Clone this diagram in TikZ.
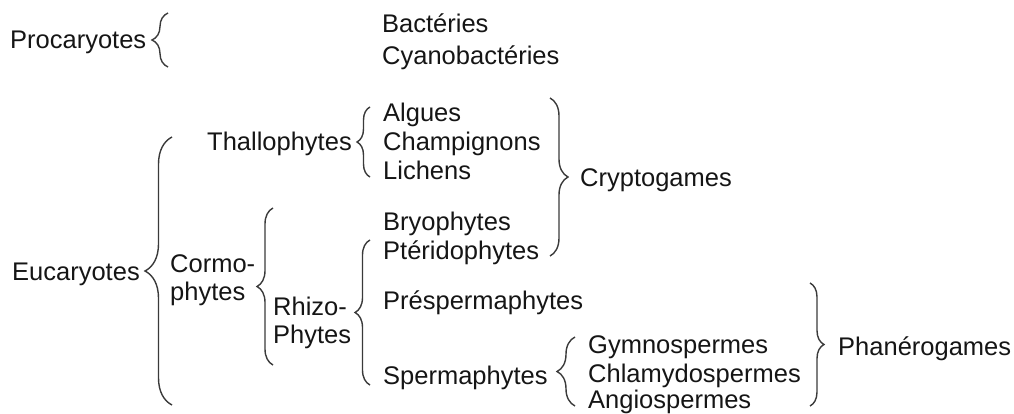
\documentclass[tikz,border=0pt]{standalone}
\usepackage{fontspec}
\setmainfont{Liberation Sans}
\usetikzlibrary{decorations.pathreplacing}
\definecolor{ink}{HTML}{151515}
\definecolor{brc}{HTML}{3A3A3A}
\tikzset{
  lbl/.style={anchor=base west, inner sep=0pt, text=ink, font=\fontsize{25.5}{30}\selectfont},
  brc/.style={draw=brc, line width=1.4pt, decorate, decoration={brace, amplitude=#1}},
}
\begin{document}
\begin{tikzpicture}[x=1pt, y=-1pt]
\useasboundingbox (0,0) rectangle (1014,414);
% text (baseline = visual centre + 9)
\node[lbl] (pro) at (10,49) {Procaryotes};
\node[lbl] (bac) at (382,33) {Bactéries};
\node[lbl] (cya) at (382,65) {Cyanobactéries};
\node[lbl] (tha) at (207,151) {Thallophytes};
\node[lbl] (alg) at (383,122) {Algues};
\node[lbl] (cha) at (383,151) {Champignons};
\node[lbl] (lic) at (383,180) {Lichens};
\node[lbl] (cry) at (580,187) {Cryptogames};
\node[lbl] (bry) at (383,230) {Bryophytes};
\node[lbl] (pte) at (383,259) {Ptéridophytes};
\node[lbl] (euc) at (12,280) {Eucaryotes};
\node[lbl] (cor1) at (170,272) {Cormo-};
\node[lbl] (cor2) at (170,300) {phytes};
\node[lbl] (rhi1) at (273,315) {Rhizo-};
\node[lbl] (rhi2) at (273,343) {Phytes};
\node[lbl] (pre) at (383,309) {Préspermaphytes};
\node[lbl] (spe) at (383,384) {Spermaphytes};
\node[lbl] (gym) at (588,353) {Gymnospermes};
\node[lbl] (chl) at (588,382) {Chlamydospermes};
\node[lbl] (ang) at (588,408) {Angiospermes};
\node[lbl] (pha) at (838,355) {Phanérogames};
% brace end points
\coordinate (proT) at (168,13);  \coordinate (proB) at (168,67);
\coordinate (eucT) at (172,137); \coordinate (eucB) at (172,405);
\coordinate (thaT) at (370,107); \coordinate (thaB) at (370,177);
\coordinate (corT) at (273,208); \coordinate (corB) at (273,365);
\coordinate (rhiT) at (370,240); \coordinate (rhiB) at (370,385);
\coordinate (speT) at (575,337); \coordinate (speB) at (575,406);
\coordinate (cryT) at (550,98);  \coordinate (cryB) at (550,256);
\coordinate (phaT) at (810,283); \coordinate (phaB) at (810,406);
% left braces (tip to the left)
\draw[brc=16pt] (proB) -- (proT);
\draw[brc=27pt] (eucB) -- (eucT);
\draw[brc=13pt] (thaB) -- (thaT);
\draw[brc=16pt] (corB) -- (corT);
\draw[brc=15pt] (rhiB) -- (rhiT);
\draw[brc=18pt] (speB) -- (speT);
% right braces (tip to the right)
\draw[brc=18pt] (cryT) -- (cryB);
\draw[brc=14pt] (phaT) -- (phaB);
\end{tikzpicture}
\end{document}
